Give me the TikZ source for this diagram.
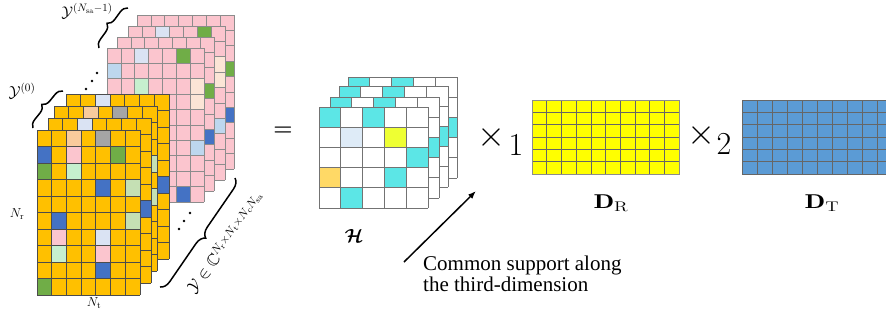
\RequirePackage{fix-cm}
\documentclass[tikz,border=0pt]{standalone}
\usepackage{amsmath,amssymb,bm}
\usepackage{fontspec}
\newfontfamily\timesf{Liberation Serif}
\usetikzlibrary{decorations.pathreplacing,arrows.meta}
\definecolor{yel}{HTML}{FFC000}
\definecolor{pinkc}{HTML}{FBC5CE}
\definecolor{blu}{HTML}{4472C4}
\definecolor{grn}{HTML}{70AD47}
\definecolor{ltblue}{HTML}{BDD7EE}
\definecolor{lav}{HTML}{DAE3F3}
\definecolor{mint}{HTML}{C6EFCE}
\definecolor{sage}{HTML}{C5E0B4}
\definecolor{peach}{HTML}{F9CB9C}
\definecolor{grayc}{HTML}{A5A5A5}
\definecolor{ltpeach}{HTML}{FBE5D6}
\definecolor{cyanc}{HTML}{5CE6E6}
\definecolor{chart}{HTML}{EEFF33}
\definecolor{goldc}{HTML}{FFD966}
\definecolor{vlblue}{HTML}{DEEBF7}
\definecolor{dryel}{HTML}{FFFF00}
\definecolor{dtblue}{HTML}{5B9BD5}
\newcommand\mylayer[4]{%
  \fill[#3] (#1,#2) rectangle ++({\nc*\cw},{\nr*\ch});
  \foreach \ci/\ri/\cellc in {#4}{\fill[\cellc] ({#1+\ci*\cw},{#2+\ri*\ch}) rectangle ++(\cw,\ch);}
  \foreach \i in {0,...,\nc}{\draw[gl] ({#1+\i*\cw},#2) -- ++(0,{\nr*\ch});}
  \foreach \j in {0,...,\nr}{\draw[gl] (#1,{#2+\j*\ch}) -- ++({\nc*\cw},0);}
}
\tikzset{
  bracec/.style={decorate,decoration={brace,amplitude=#1},line width=1.5pt},
  dotc/.style={fill=black},
  lbl/.style={inner sep=0pt},
}
\begin{document}
\begin{tikzpicture}[x=1pt,y=-1pt]
\clip (0,0) rectangle (886,322);
\useasboundingbox (0,0) rectangle (886,322);
% ---------- pink stack ----------
\def\nc{7}\def\nr{10}\def\cw{13.9}\def\ch{15.4}
\tikzset{gl/.style={draw=black!45,line width=0.7pt}}
\mylayer{137}{15}{pinkc}{6/3/grn,6/6/blu}
\mylayer{128}{26}{pinkc}{2/0/lav,5/0/grn,6/2/ltpeach,6/3/ltpeach,6/6/ltblue}
\mylayer{117}{37}{pinkc}{6/3/grn,6/6/blu}
\mylayer{107}{48}{pinkc}{2/0/lav,5/0/grn,0/1/ltblue,2/2/mint,6/2/ltpeach,6/3/ltpeach,6/6/ltblue,5/9/blu}
% ---------- yellow stack ----------
\def\nc{7}\def\nr{10}\def\cw{14.7}\def\ch{16.5}
\tikzset{gl/.style={draw=black!70,line width=0.7pt}}
\mylayer{66}{94}{yel}{2/0/lav,6/5/blu}
\mylayer{54}{106}{yel}{2/0/peach,4/0/grayc,6/3/sage,6/5/sage}
\mylayer{48}{118}{yel}{2/0/lav,6/5/blu}
\mylayer{37}{130}{yel}{2/0/peach,4/0/grayc,0/1/blu,2/1/pinkc,5/1/grn,0/2/grn,2/2/mint,4/3/blu,6/3/sage,1/5/blu,6/5/sage,1/6/pinkc,4/6/lav,1/7/mint,4/7/pinkc,4/8/blu,0/9/grn}
% braces and dots
\coordinate (yb1) at (33,128); \coordinate (yb2) at (63,91);
\draw[bracec=8pt] (yb1) -- (yb2);
\node[lbl] (y0) at (22,91) {\fontsize{16}{16}\selectfont$\mathcal{Y}^{(0)}$};
\coordinate (pb1) at (99,48); \coordinate (pb2) at (128,8);
\draw[bracec=8pt] (pb1) -- (pb2);
\node[lbl] (ysa) at (87,11) {\fontsize{15.5}{15.5}\selectfont$\mathcal{Y}^{(N_{\mathrm{sa}}-1)}$};
\fill[dotc] (86,89) circle (1.4) (92,81) circle (1.4) (97,73) circle (1.4);
\fill[dotc] (179,229) circle (1.4) (184,221) circle (1.4) (190,213) circle (1.4);
\coordinate (bb1) at (235,178); \coordinate (bb2) at (160,287);
\draw[bracec=10pt] (bb1) -- (bb2);
\node[lbl,rotate=53] (ydim) at (226,243) {\fontsize{16.5}{16.5}\selectfont$\mathcal{Y}\in\mathbb{C}^{N_{\mathrm{r}}\times N_{\mathrm{t}}\times N_{\mathrm{c}}N_{\mathrm{sa}}}$};
\node[lbl] (nr) at (17,214) {\fontsize{13}{13}\selectfont$N_{\mathrm{r}}$};
\node[lbl] (nt) at (94,303) {\fontsize{13}{13}\selectfont$N_{\mathrm{t}}$};
\node[lbl] (eq) at (283,131) {\fontsize{22}{22}\selectfont$\boldsymbol{=}$};
% ---------- H stack ----------
\def\nc{5}\def\nr{5}\def\cw{21.8}\def\ch{20.2}
\tikzset{gl/.style={draw=black!55,line width=0.9pt}}
\mylayer{348}{77}{white}{0/0/cyanc,2/0/cyanc,4/2/cyanc,3/3/cyanc,1/4/cyanc}
\mylayer{339}{86}{white}{0/0/cyanc,2/0/cyanc,4/2/cyanc,3/3/cyanc,1/4/cyanc}
\mylayer{330}{97}{white}{0/0/cyanc,2/0/cyanc,4/2/cyanc,3/3/cyanc,1/4/cyanc}
\mylayer{319}{107}{white}{0/0/cyanc,2/0/cyanc,1/1/vlblue,3/1/chart,4/2/cyanc,0/3/goldc,3/3/cyanc,1/4/cyanc}
\node[lbl] (hl) at (354,236) {\fontsize{19}{19}\selectfont$\boldsymbol{\mathcal{H}}$};
% arrow
\coordinate (arrS) at (404,262); \coordinate (arrE) at (476,191);
\draw[line width=1.5pt,-{Latex[length=8pt,width=6pt]}] (arrS) -- (arrE);
\node[lbl,anchor=north west,align=left,font=\timesf\fontsize{21}{21}\selectfont] (cs) at (423,256) {Common support along\\the third-dimension};
% ---------- times ----------
\node[lbl] (t1) at (491,137) {\fontsize{36}{36}\selectfont$\times$};
\node[lbl] (s1) at (516,145) {\fontsize{32}{32}\selectfont$1$};
\node[lbl] (t2) at (701,135) {\fontsize{36}{36}\selectfont$\times$};
\node[lbl] (s2) at (724,144) {\fontsize{32}{32}\selectfont$2$};
% ---------- D_R ----------
\def\nc{10}\def\nr{6}\def\cw{14.7}\def\ch{12.33}
\tikzset{gl/.style={draw=black!60,line width=0.6pt}}
\mylayer{532}{100}{dryel}{0/0/dryel}
\draw[draw=black!45,line width=0.9pt] (532,100) rectangle ++(147,74);
\node[lbl,xscale=1.35] (dr) at (611,203) {\fontsize{20}{20}\selectfont$\mathbf{D}_{\mathrm{R}}$};
% ---------- D_T ----------
\def\nc{10}\def\nr{6}\def\cw{15}\def\ch{12.33}
\tikzset{gl/.style={draw=black!60,line width=0.6pt}}
\mylayer{742}{100}{dtblue}{0/0/dtblue}
\node[lbl,xscale=1.35] (dt) at (822,203) {\fontsize{20}{20}\selectfont$\mathbf{D}_{\mathrm{T}}$};
\end{tikzpicture}
\end{document}
